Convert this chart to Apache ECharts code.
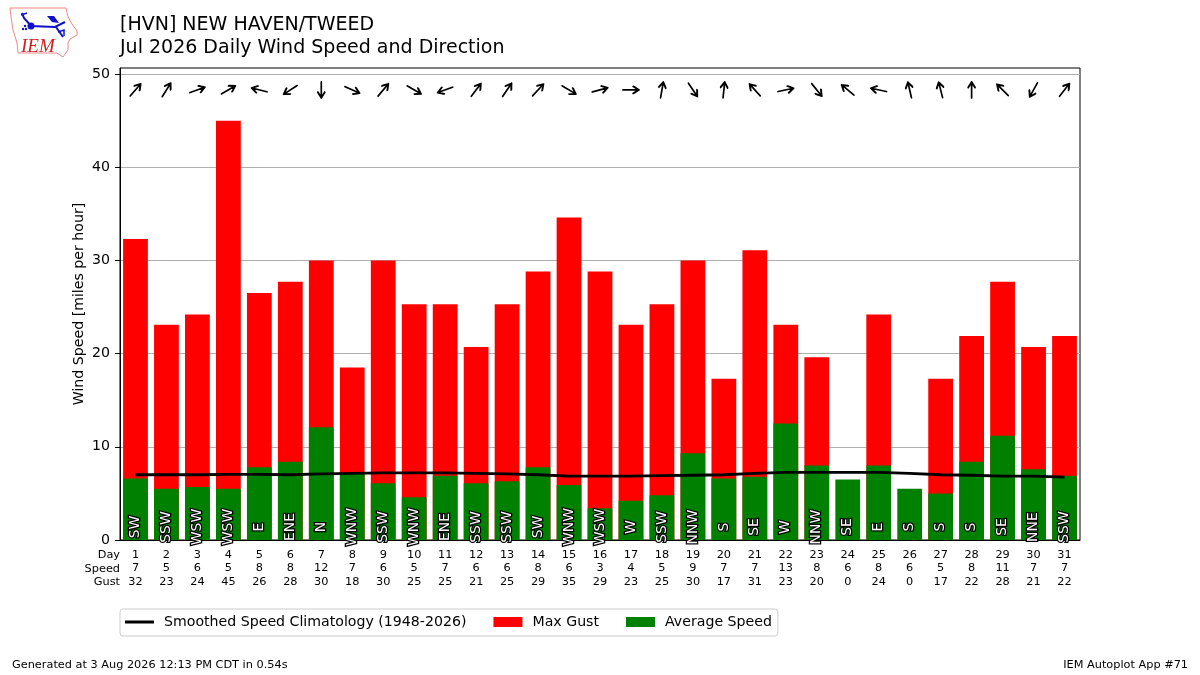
<!DOCTYPE html>
<html>
<head>
<meta charset="utf-8">
<style>html,body{margin:0;padding:0;background:#fff}#c{width:1200px;height:675px}</style>
<script src="https://cdn.jsdelivr.net/npm/echarts@6/dist/echarts.min.js"></script>
</head>
<body>
<div id="c"></div>
<script>
const days = [1,2,3,4,5,6,7,8,9,10,11,12,13,14,15,16,17,18,19,20,21,22,23,24,25,26,27,28,29,30,31];
const maxGust = [32.3,23.1,24.2,45,26.5,27.7,30,18.5,30,25.3,25.3,20.7,25.3,28.8,34.6,28.8,23.1,25.3,30,17.3,31.1,23.1,19.6,0,24.2,0,17.3,21.9,27.7,20.7,21.9];
const avgSpeed = [6.6,5.5,5.7,5.5,7.8,8.4,12.1,7.2,6.1,4.6,6.9,6.1,6.3,7.8,5.9,3.4,4.2,4.8,9.3,6.6,6.8,12.5,8,6.5,8,5.5,5,8.4,11.2,7.6,6.9];
const climatology = [7.0,7.0,7.0,7.05,7.05,7.0,7.1,7.15,7.2,7.2,7.2,7.15,7.1,7.0,6.85,6.85,6.85,6.9,6.95,7.0,7.15,7.25,7.25,7.25,7.25,7.15,7.0,6.95,6.85,6.85,6.75];
const dirLabels = ['SW','SSW','WSW','WSW','E','ENE','N','WNW','SSW','WNW','ENE','SSW','SSW','SW','WNW','WSW','W','SSW','NNW','S','SE','W','NNW','SE','E','S','S','S','SE','NNE','SSW'];
const arrowBearing = [41,32,70,60,284,237,180,114,40,120,250,37,34,43,121,75,90,10,146,6,318,78,141,310,282,347,346,0,315,209,38];
const speedRow = [7,5,6,5,8,8,12,7,6,5,7,6,6,8,6,3,4,5,9,7,7,13,8,6,8,6,5,8,11,7,7];
const gustRow = [32,23,24,45,26,28,30,18,30,25,25,21,25,29,35,29,23,25,30,17,31,23,20,0,24,0,17,22,28,21,22];
const yTicks = [0,10,20,30,40,50];
const arrowLevel = 48.3;

const FONT = '"DejaVu Sans", sans-serif';
const chart = echarts.init(document.getElementById('c'), null, {renderer:'canvas'});

const smallText = (text, x, y, align) => ({
  type:'text', x, y,
  style:{text, font:'11.3px '+FONT, fill:'#000', textAlign:align||'right', textVerticalAlign:'middle'}
});

chart.setOption({
  animation:false,
  backgroundColor:'#fff',
  textStyle:{fontFamily:FONT},
  title:[
    {text:'[HVN] NEW HAVEN/TWEED', left:120, top:16, padding:0, textStyle:{fontSize:19, fontWeight:'normal', color:'#000', fontFamily:FONT}},
    {text:'Jul 2026 Daily Wind Speed and Direction', left:120, top:39, padding:0, textStyle:{fontSize:19, fontWeight:'normal', color:'#000', fontFamily:FONT}}
  ],
  grid:{left:120, top:68, width:960, height:472, show:true, borderColor:'#000', borderWidth:1, backgroundColor:'transparent'},
  legend:{
    left:120, top:609, orient:'horizontal',
    padding:[6,6,7,5], itemGap:27, itemWidth:29, itemHeight:10,
    borderColor:'#ccc', borderWidth:1, borderRadius:3, backgroundColor:'#fff',
    textStyle:{fontSize:14.15, color:'#000', fontFamily:FONT, padding:[0,0,0,5]},
    data:[
      {name:'Smoothed Speed Climatology (1948-2026)', icon:'path://M0,0 H29 V3 H0 Z'},
      {name:'Max Gust', icon:'rect'},
      {name:'Average Speed', icon:'rect'}
    ]
  },
  xAxis:{
    type:'category', data:days, boundaryGap:true,
    axisTick:{alignWithLabel:true, length:5, lineStyle:{color:'#000'}},
    axisLine:{lineStyle:{color:'#000', width:1}},
    axisLabel:{
      interval:0, margin:8, fontSize:11.3, lineHeight:13.6, color:'#000', fontFamily:FONT,
      formatter:(v,i)=>days[i]+'\n'+speedRow[i]+'\n'+gustRow[i]
    },
    splitLine:{show:false}
  },
  yAxis:{
    type:'value', min:0, max:50.65,
    name:'Wind Speed [miles per hour]', nameLocation:'middle', nameGap:34, nameMoveOverlap:false,
    nameTextStyle:{fontSize:14.15, color:'#000', fontFamily:FONT},
    axisLine:{show:true, lineStyle:{color:'#000', width:1}},
    axisTick:{show:true, length:5, lineStyle:{color:'#000'}, customValues:yTicks},
    axisLabel:{fontSize:14.15, color:'#000', margin:10, padding:[4,0,0,0], fontFamily:FONT, customValues:yTicks},
    splitLine:{show:true, lineStyle:{color:'#b0b0b0', width:1}}
  },
  series:[
    {
      name:'Max Gust', type:'bar', data:maxGust, barWidth:'80%', barGap:'-100%',
      itemStyle:{color:'#ff0000'}, z:2
    },
    {
      name:'Average Speed', type:'bar', data:avgSpeed, barWidth:'80%', barGap:'-100%',
      itemStyle:{color:'#008000'}, z:3,
      label:{
        show:true, position:'insideBottom', distance:13, rotate:90,
        align:'center', verticalAlign:'middle',
        formatter:p=>dirLabels[p.dataIndex],
        fontSize:14, color:'#fff', fontFamily:FONT,
        textBorderColor:'#000', textBorderWidth:2.5
      }
    },
    {
      name:'Smoothed Speed Climatology (1948-2026)', type:'line', data:climatology,
      symbol:'none', showSymbol:false, smooth:false,
      lineStyle:{color:'#000', width:2.8}, itemStyle:{color:'#000'}, z:4
    },
    {
      name:'Wind Direction', type:'scatter',
      data:days.map((d,i)=>[i, arrowLevel, arrowBearing[i]]),
      symbol:'path://M5,16 L5,0 M0,5.5 L5,0 L10,5.5',
      symbolSize:[11,15.5], symbolKeepAspect:true,
      symbolRotate:(v)=>-v[2],
      itemStyle:{color:'rgba(0,0,0,0)', borderColor:'#000', borderWidth:2, borderJoin:'round', borderCap:'round', opacity:1},
      z:5, silent:true
    }
  ],
  graphic:[
    smallText('Day',120,555),
    smallText('Speed',120,569),
    smallText('Gust',120,582),
    smallText('Generated at 3 Aug 2026 12:13 PM CDT in 0.54s',12,665,'left'),
    smallText('IEM Autoplot App #71',1188,665,'right'),
    // IEM logo
    {type:'polygon', shape:{points:[[10,8],[66,8],[68,17],[72,24],[77,31],[77,35],[70,39],[68,43],[68,50],[63,57],[57,53],[18,53],[17,43],[13,30],[11,17]]},
     style:{fill:'#fff', stroke:'#ee8888', lineWidth:1}},
    {type:'polyline', shape:{points:[[22,13],[24,18],[31,26],[55,27],[65,22]]}, style:{fill:'none', stroke:'#1111cc', lineWidth:2}},
    {type:'polyline', shape:{points:[[21,15],[27,13]]}, style:{fill:'none', stroke:'#1111cc', lineWidth:1.5}},
    {type:'circle', shape:{cx:31,cy:26,r:3.5}, style:{fill:'#1111cc'}},
    {type:'polygon', shape:{points:[[47,16],[54,16],[59,23],[52,22]]}, style:{fill:'#1111cc'}},
    {type:'polyline', shape:{points:[[56,27],[63,37]]}, style:{fill:'none', stroke:'#1111cc', lineWidth:2}},
    {type:'polyline', shape:{points:[[58,32],[64,30],[64,36]]}, style:{fill:'none', stroke:'#1111cc', lineWidth:1.5}},
    {type:'circle', shape:{cx:25,cy:26,r:1.2}, style:{fill:'#1111cc'}},
    {type:'circle', shape:{cx:23,cy:29,r:1.2}, style:{fill:'#1111cc'}},
    {type:'circle', shape:{cx:26,cy:29,r:1.2}, style:{fill:'#1111cc'}},
    {type:'text', x:21, y:37, style:{text:'IEM', font:'italic 19px "Liberation Serif", serif', fill:'#cc2222'}}
  ]
});
</script>
</body>
</html>
